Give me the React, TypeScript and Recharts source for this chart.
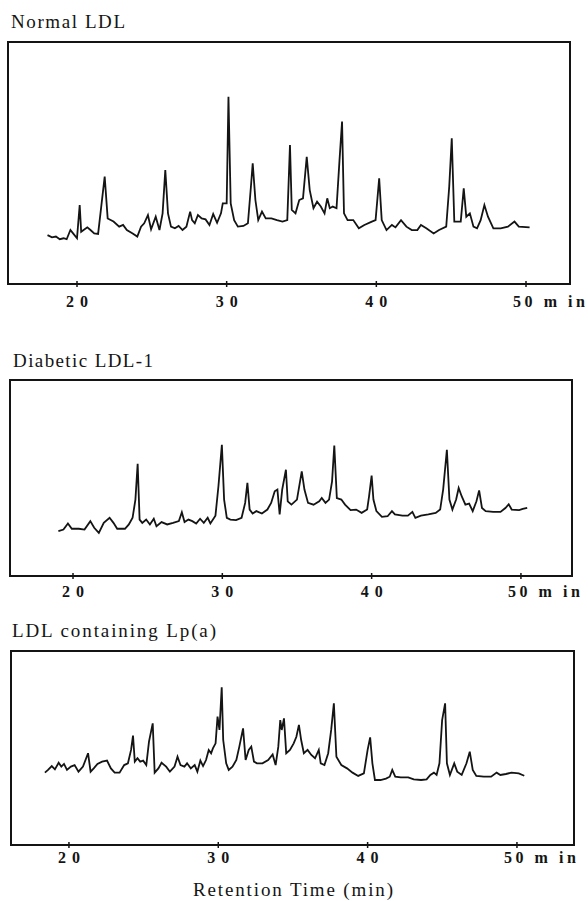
import React from 'react';
import { LineChart, Line, XAxis, YAxis, ReferenceArea } from 'recharts';

const tickValues = [20, 30, 40, 50];
const panelTitles = ['Normal LDL', 'Diabetic LDL-1', 'LDL containing Lp(a)'];
const axisTitle = 'Retention Time (min)';
const unitLabel = 'm in';

// [retention time (min), detector signal (% of frame height)]
const normalLDL: [number, number][] = [
  [18.03, 20.2], [18.33, 19.3], [18.59, 19.6], [18.85, 18.5], [19.1, 18.9], [19.31, 18.5], [19.56, 22.3], [19.74, 20.9],
  [20.0, 18.9], [20.18, 32.6], [20.28, 21.6], [20.51, 22.6], [20.69, 23.4], [20.9, 22.3], [21.15, 20.9], [21.41, 20.7],
  [21.62, 32.0], [21.85, 44.4], [22.05, 27.1], [22.44, 25.8], [22.82, 23.7], [23.08, 24.4], [23.33, 22.3], [23.72, 20.9],
  [24.03, 19.6], [24.28, 23.7], [24.49, 25.1], [24.74, 28.5], [24.95, 22.6], [25.26, 27.8], [25.51, 22.3], [25.72, 29.2],
  [25.9, 47.1], [26.08, 29.2], [26.28, 23.7], [26.54, 23.0], [26.79, 24.0], [27.05, 22.3], [27.31, 23.7], [27.56, 29.9],
  [27.69, 26.4], [27.87, 25.1], [28.08, 28.5], [28.33, 27.1], [28.59, 26.7], [28.85, 24.4], [29.1, 28.9], [29.36, 25.3],
  [29.62, 29.2], [29.74, 33.3], [30.0, 33.3], [30.12, 77.4], [30.27, 33.3], [30.5, 26.4], [30.75, 23.7], [31.12, 24.0],
  [31.42, 25.1], [31.62, 40.2], [31.74, 49.9], [31.92, 34.7], [32.11, 26.4], [32.36, 29.9], [32.61, 27.1], [32.99, 27.1],
  [33.36, 26.4], [33.73, 25.8], [34.05, 26.4], [34.23, 57.4], [34.35, 30.6], [34.6, 29.2], [34.85, 34.7], [35.1, 35.4],
  [35.35, 52.6], [35.55, 38.8], [35.8, 31.3], [36.04, 34.0], [36.29, 32.0], [36.54, 29.2], [36.72, 35.4], [36.89, 31.3],
  [37.09, 32.0], [37.34, 31.3], [37.54, 51.2], [37.71, 67.1], [37.84, 29.2], [38.08, 26.4], [38.46, 26.4], [38.83, 23.0],
  [39.2, 24.4], [39.7, 25.8], [39.95, 26.4], [40.19, 43.7], [40.36, 26.4], [40.68, 22.3], [41.04, 24.4], [41.28, 23.4],
  [41.65, 26.4], [42.01, 23.7], [42.37, 22.3], [42.74, 22.3], [42.98, 24.4], [43.34, 23.0], [43.83, 20.9], [44.19, 22.3],
  [44.67, 23.7], [44.87, 40.2], [45.04, 60.2], [45.21, 25.8], [45.64, 25.8], [45.84, 39.5], [46.01, 27.8], [46.25, 29.2],
  [46.49, 23.7], [46.73, 23.0], [46.97, 26.4], [47.22, 32.6], [47.46, 27.8], [47.82, 23.0], [48.31, 23.0], [48.79, 23.7],
  [49.23, 25.8], [49.52, 23.7], [50.24, 23.4],
];

const diabeticLDL1: [number, number][] = [
  [19.02, 22.9], [19.36, 23.7], [19.66, 26.8], [19.92, 24.1], [20.39, 24.1], [20.77, 23.7], [21.16, 28.0], [21.42, 24.6],
  [21.73, 22.0], [22.06, 27.1], [22.45, 29.7], [22.71, 27.1], [22.96, 24.1], [23.48, 24.1], [23.74, 26.3], [23.99, 29.7],
  [24.18, 39.0], [24.33, 57.3], [24.46, 28.8], [24.64, 27.1], [24.9, 28.8], [25.15, 26.3], [25.41, 29.2], [25.59, 25.4],
  [25.93, 27.5], [26.31, 26.3], [26.7, 27.1], [27.09, 28.0], [27.29, 32.5], [27.47, 27.5], [27.73, 28.8], [27.99, 28.0],
  [28.25, 26.8], [28.51, 29.2], [28.76, 27.1], [29.02, 29.7], [29.2, 26.8], [29.54, 30.8], [29.74, 45.8], [29.97, 66.9],
  [30.12, 39.0], [30.3, 29.7], [30.54, 28.8], [30.92, 28.5], [31.29, 29.7], [31.53, 37.3], [31.68, 47.5], [31.83, 33.9],
  [32.03, 31.9], [32.28, 33.1], [32.65, 31.9], [33.02, 33.9], [33.27, 37.3], [33.51, 43.2], [33.69, 44.1], [33.84, 31.4],
  [34.01, 44.1], [34.26, 54.2], [34.38, 38.1], [34.63, 36.4], [35.0, 39.0], [35.32, 53.4], [35.5, 44.1], [35.74, 37.3],
  [36.11, 36.4], [36.49, 38.1], [36.66, 39.8], [36.91, 37.3], [37.15, 39.0], [37.35, 48.3], [37.5, 66.6], [37.67, 39.8],
  [37.97, 39.0], [38.22, 36.4], [38.59, 33.6], [38.96, 33.9], [39.33, 32.2], [39.7, 33.9], [39.83, 40.7], [40.0, 51.2],
  [40.12, 39.0], [40.32, 33.1], [40.69, 30.2], [41.07, 30.5], [41.36, 33.1], [41.56, 31.4], [42.06, 30.8], [42.43, 30.8],
  [42.73, 32.7], [42.93, 29.7], [43.3, 30.8], [43.8, 31.4], [44.29, 32.2], [44.59, 33.9], [44.79, 44.1], [45.04, 64.4],
  [45.21, 39.0], [45.41, 33.9], [45.66, 39.0], [45.83, 44.9], [46.03, 40.7], [46.28, 36.4], [46.53, 36.9], [46.77, 33.1],
  [47.02, 38.1], [47.2, 43.7], [47.39, 34.7], [47.64, 33.1], [48.14, 32.7], [48.63, 32.7], [48.96, 34.7], [49.18, 36.6],
  [49.38, 33.9], [49.88, 33.6], [50.12, 34.2], [50.42, 34.7],
];

const lpaLDL: [number, number][] = [
  [18.39, 37.3], [18.6, 38.7], [18.85, 40.7], [19.06, 39.0], [19.31, 42.4], [19.49, 40.4], [19.67, 41.8], [19.87, 38.7],
  [20.13, 40.4], [20.38, 41.2], [20.64, 37.8], [20.94, 40.4], [21.28, 47.3], [21.45, 37.8], [21.66, 39.5], [21.91, 41.8],
  [22.22, 43.0], [22.55, 43.5], [22.81, 39.5], [23.06, 37.3], [23.39, 37.3], [23.7, 41.2], [23.95, 42.1], [24.16, 49.0],
  [24.29, 56.4], [24.41, 43.0], [24.59, 44.7], [24.77, 43.0], [24.97, 43.5], [25.18, 41.2], [25.36, 53.3], [25.61, 62.7],
  [25.74, 37.3], [25.99, 39.5], [26.2, 42.4], [26.51, 40.4], [26.76, 37.8], [27.07, 40.4], [27.27, 45.5], [27.47, 41.2],
  [27.73, 40.4], [27.91, 42.1], [28.16, 39.5], [28.42, 41.2], [28.6, 37.8], [28.8, 43.5], [28.98, 40.7], [29.18, 43.8],
  [29.36, 49.0], [29.52, 47.3], [29.64, 49.8], [29.82, 52.4], [29.95, 66.2], [30.08, 59.3], [30.23, 81.3], [30.33, 54.1],
  [30.53, 42.1], [30.7, 38.7], [30.95, 40.4], [31.21, 43.8], [31.41, 50.7], [31.66, 60.1], [31.83, 43.8], [32.04, 49.0],
  [32.21, 50.7], [32.39, 43.0], [32.59, 42.1], [32.96, 42.1], [33.34, 43.8], [33.64, 46.7], [33.84, 41.2], [34.02, 50.7],
  [34.15, 64.4], [34.25, 59.3], [34.4, 65.3], [34.55, 47.3], [34.8, 49.0], [35.05, 52.4], [35.23, 55.8], [35.4, 61.9],
  [35.55, 54.1], [35.73, 47.3], [35.98, 49.0], [36.23, 46.4], [36.48, 44.7], [36.73, 49.0], [36.86, 42.1], [37.11, 41.2],
  [37.36, 47.3], [37.56, 59.3], [37.74, 73.0], [37.91, 45.5], [38.24, 41.2], [38.62, 39.5], [38.99, 37.3], [39.37, 35.6],
  [39.75, 36.9], [40.0, 49.0], [40.17, 55.5], [40.32, 42.1], [40.49, 33.5], [40.86, 33.5], [41.23, 34.2], [41.48, 35.2],
  [41.65, 38.7], [41.85, 35.2], [42.22, 34.9], [42.72, 34.9], [43.09, 33.8], [43.58, 33.5], [43.95, 33.8], [44.2, 36.1],
  [44.44, 37.3], [44.62, 36.1], [44.81, 42.1], [44.99, 64.4], [45.19, 73.0], [45.31, 42.1], [45.51, 36.1], [45.8, 42.1],
  [46.0, 37.8], [46.3, 36.1], [46.62, 42.1], [46.84, 48.1], [47.04, 38.7], [47.28, 35.6], [47.78, 35.2], [48.27, 35.2],
  [48.64, 37.3], [48.89, 36.1], [49.26, 36.6], [49.63, 37.3], [50.12, 36.9], [50.49, 35.7],
];

const FONT = '"Liberation Serif", "Times New Roman", serif';
const INK = '#141414';

const toRows = (pairs: [number, number][]) => pairs.map(([t, v]) => ({ t, v }));

type PanelCfg = {
  title: string;
  series: [number, number][];
  boxTop: number;
  boxBottom: number;
  left: number;
  right: number;
  domain: [number, number];
  titleX: number;
  titleBase: number;
  titleW: number;
  labelDy: number;
};

const panels: PanelCfg[] = [
  { title: panelTitles[0], series: normalLDL, boxTop: 42, boxBottom: 284, left: 8, right: 570, domain: [15.39, 52.94], titleX: 11, titleBase: 28, titleW: 114, labelDy: 23 },
  { title: panelTitles[1], series: diabeticLDL1, boxTop: 380, boxBottom: 576, left: 10, right: 572, domain: [15.78, 53.42], titleX: 13, titleBase: 367, titleW: 140, labelDy: 21 },
  { title: panelTitles[2], series: lpaLDL, boxTop: 651, boxBottom: 845, left: 11, right: 574, domain: [16.12, 53.82], titleX: 12, titleBase: 637, titleW: 204, labelDy: 18 },
];

const makeTick = (dy: number) => (props: any) => {
  const { x, y, payload } = props;
  const v = payload.value;
  return (
    <g>
      <line x1={x} x2={x} y1={y - 3} y2={y + 3} stroke={INK} strokeWidth={1.5} />
      {v === 50 ? (
        <text x={x - 13} y={y + dy} fontFamily={FONT} fontSize={16} fontWeight={700} fill={INK} textLength={72} lengthAdjust="spacing">
          {`${v} ${unitLabel}`}
        </text>
      ) : (
        <text x={x} y={y + dy} textAnchor="middle" fontFamily={FONT} fontSize={16} fontWeight={700} fill={INK} textLength={22} lengthAdjust="spacing">
          {v}
        </text>
      )}
    </g>
  );
};

const Panel = ({ p }: { p: PanelCfg }) => {
  const chartTop = p.boxTop - 10;
  const height = p.boxBottom - chartTop + 40;
  return (
    <div style={{ position: 'absolute', left: 0, top: chartTop, width: 588, height }}>
      <LineChart width={588} height={height} data={toRows(p.series)} margin={{ top: 10, left: p.left, right: 588 - p.right, bottom: 0 }}>
        <XAxis
          type="number"
          dataKey="t"
          domain={p.domain}
          ticks={tickValues}
          interval={0}
          allowDataOverflow
          axisLine={false}
          tickLine={false}
          tickSize={0}
          tickMargin={0}
          height={40}
          tick={makeTick(p.labelDy)}
        />
        <YAxis hide domain={[0, 100]} allowDataOverflow />
        <ReferenceArea x1={p.domain[0]} x2={p.domain[1]} y1={0} y2={100} fill="none" stroke={INK} strokeWidth={2} />
        <Line type="linear" dataKey="v" stroke={INK} strokeWidth={1.8} dot={false} isAnimationActive={false} />
      </LineChart>
    </div>
  );
};

export default function App() {
  return (
    <div style={{ position: 'absolute', left: 0, top: 0, width: 588, height: 901, background: '#fff', overflow: 'hidden' }}>
      {panels.map((p) => (
        <Panel key={p.title} p={p} />
      ))}
      <svg width={588} height={901} style={{ position: 'absolute', left: 0, top: 0, pointerEvents: 'none' }}>
        {panels.map((p) => (
          <text key={p.title} x={p.titleX} y={p.titleBase} fontFamily={FONT} fontSize={19} fill={INK} textLength={p.titleW} lengthAdjust="spacing">
            {p.title}
          </text>
        ))}
        <text x={193} y={896} fontFamily={FONT} fontSize={19} fill={INK} textLength={200} lengthAdjust="spacing">
          {axisTitle}
        </text>
      </svg>
    </div>
  );
}
